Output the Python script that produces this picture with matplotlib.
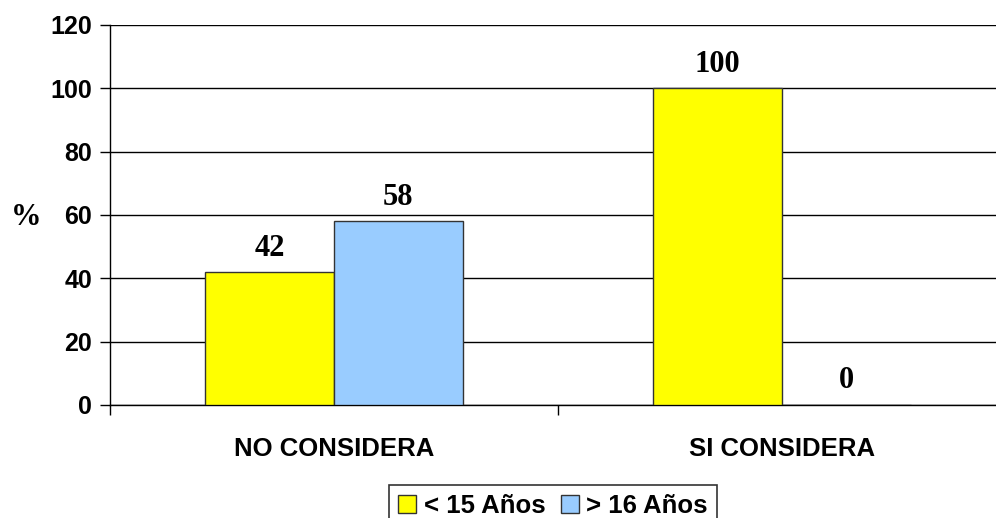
import matplotlib.pyplot as plt
import numpy as np

categories = ['NO CONSIDERA', 'SI CONSIDERA']
menores_15 = [42, 100]
mayores_16 = [58, 0]
series_labels = ['< 15 Años', '> 16 Años']
colors = ['#FFFF00', '#99CCFF']

fig = plt.figure(figsize=(9.96, 5.18), dpi=100)
ax = fig.add_axes([110 / 996, 1 - 405 / 518, 896 / 996, 380 / 518])

x = np.arange(len(categories))
width = 0.287
b1 = ax.bar(x - width / 2, menores_15, width, color=colors[0], edgecolor='#333333',
            linewidth=1, label=series_labels[0], zorder=3)
b2 = ax.bar(x + width / 2, mayores_16, width, color=colors[1], edgecolor='#333333',
            linewidth=1, label=series_labels[1], zorder=3)

for bars, vals in [(b1, menores_15), (b2, mayores_16)]:
    for bar, v in zip(bars, vals):
        ax.text(bar.get_x() + bar.get_width() / 2, v + 3.0, f'{v}', ha='center', va='bottom',
                fontsize=22, fontweight='bold', family='Liberation Serif')

ax.set_xlim(-0.5, 1.5)
ax.set_ylim(0, 120)
ax.set_yticks(range(0, 121, 20))
ax.yaxis.grid(True, color='black', linewidth=1, zorder=0)
ax.set_axisbelow(True)

# category boundaries carry the tick marks, labels sit at category centres
ax.set_xticks([-0.5, 0.5, 1.5])
ax.set_xticklabels([])
ax.set_xticks(x, minor=True)
ax.set_xticklabels(categories, minor=True)
ax.tick_params(axis='x', which='minor', length=0, pad=23)
ax.tick_params(axis='x', which='major', length=7, width=1)
ax.tick_params(axis='y', length=7, width=1, pad=6)
for lab in ax.get_xticklabels(minor=True):
    lab.set_fontsize(18.5)
    lab.set_fontweight('bold')
    lab.set_family('Liberation Sans')
for lab in ax.get_yticklabels():
    lab.set_fontsize(18)
    lab.set_fontweight('bold')
    lab.set_family('Liberation Sans')

ax.spines['top'].set_visible(False)
ax.spines['right'].set_visible(False)
for s in ['left', 'bottom']:
    ax.spines[s].set_linewidth(1)

ax.set_ylabel('%', rotation=0, fontsize=22, fontweight='bold', family='Liberation Serif')
ax.yaxis.set_label_coords(-0.094, 0.455)

leg = fig.legend(handles=[b1, b2], loc='lower center', bbox_to_anchor=(553 / 996, -0.042),
                 ncol=2, frameon=True, fancybox=False, edgecolor='black',
                 prop={'family': 'Liberation Sans', 'weight': 'bold', 'size': 18.5},
                 handlelength=0.7, handleheight=0.7, handletextpad=0.3, columnspacing=0.6,
                 borderpad=0.35)
leg.get_frame().set_linewidth(1.2)

fig.savefig('out.png', dpi=100)
